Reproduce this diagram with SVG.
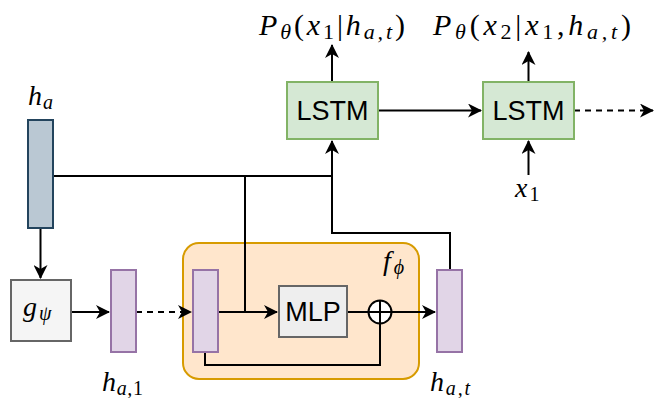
<svg xmlns="http://www.w3.org/2000/svg" width="655" height="398" viewBox="0 0 655 398">
<defs>
<marker id="arr" markerUnits="userSpaceOnUse" viewBox="0 0 14 14" markerWidth="14" markerHeight="14" refX="13" refY="7" orient="auto">
<path d="M0,0 L14,7 L0,14 L4,7 z" fill="#000"/>
</marker>
</defs>
<style>
.ln{fill:none;stroke:#000;stroke-width:2}
.dash{stroke-dasharray:6 5}
.math{font-family:"Liberation Serif","DejaVu Serif",serif;font-style:italic;font-size:28px;fill:#000}
.big{font-size:30px}
.up{font-style:normal}
.sub{font-size:20px}
.big .sub{font-size:22px}
.lbl{font-family:"Liberation Sans",Arial,sans-serif;font-size:27px;fill:#000;text-anchor:middle}
.vec{fill:#e1d5e7;stroke:#9673a6;stroke-width:2}
</style>
<g id="container-f">
<rect x="183" y="243" width="236" height="136" rx="16" fill="#ffe6cc" stroke="#d79b00" stroke-width="2"/>
<text class="math" x="383" y="270">f<tspan class="sub" dx="3" dy="4">ϕ</tspan></text>
</g>
<g id="connectors">
<path class="ln" d="M40.5,228 V278" marker-end="url(#arr)"/>
<path class="ln" d="M71,312 H109" marker-end="url(#arr)"/>
<path class="ln dash" d="M136,312 H191" marker-end="url(#arr)"/>
<path class="ln" d="M218,312 H277" marker-end="url(#arr)"/>
<path class="ln" d="M53,176 H332"/>
<path class="ln" d="M245,176 V312"/>
<path class="ln" d="M347,312 H368"/>
<path class="ln" d="M392,312 H435" marker-end="url(#arr)"/>
<path class="ln" d="M205,352 V365 H380 V323"/>
<path class="ln" d="M450,270 V233 H332 V176"/>
<path class="ln" d="M332,233 V141" marker-end="url(#arr)"/>
<path class="ln" d="M378,110.5 H481" marker-end="url(#arr)"/>
<path class="ln dash" d="M574,110.5 H653" marker-end="url(#arr)"/>
<path class="ln" d="M332,82 V45" marker-end="url(#arr)"/>
<path class="ln" d="M528.5,82 V52" marker-end="url(#arr)"/>
<path class="ln" d="M528.5,175 V141" marker-end="url(#arr)"/>
</g>
<g id="h-a">
<rect x="28" y="120" width="25" height="108" fill="#bac8d3" stroke="#23445d" stroke-width="2"/>
<text class="math" x="28" y="105">h<tspan class="sub" dx="1" dy="4">a</tspan></text>
</g>
<g id="g-psi">
<rect x="11" y="280" width="60" height="61" fill="#f5f5f5" stroke="#666" stroke-width="2"/>
<text class="math" x="23" y="316">g<tspan class="sub" dx="2" dy="4">ψ</tspan></text>
</g>
<g id="h-a1">
<rect class="vec" x="111" y="270" width="25" height="82"/>
<text class="math" x="102" y="391" textLength="41" lengthAdjust="spacing">h<tspan class="sub" dy="4">a,</tspan><tspan class="sub up">1</tspan></text>
</g>
<g id="h-inner">
<rect class="vec" x="193" y="270" width="25" height="82"/>
</g>
<g id="mlp">
<rect x="279" y="286" width="68" height="51" fill="#eeeeee" stroke="#666" stroke-width="2"/>
<text class="lbl" x="313" y="321">MLP</text>
</g>
<g id="oplus">
<circle cx="380" cy="312" r="11.5" fill="#fff" stroke="#000" stroke-width="2"/>
<path class="ln" d="M368.5,312 H391.5 M380,300.5 V323.5"/>
</g>
<g id="h-at">
<rect class="vec" x="437" y="270" width="25" height="82"/>
<text class="math" x="430" y="391" textLength="40" lengthAdjust="spacing">h<tspan class="sub" dy="4">a,t</tspan></text>
</g>
<g id="lstm1">
<rect x="287" y="82" width="91" height="57" fill="#d5e8d4" stroke="#82b366" stroke-width="2"/>
<text class="lbl" x="332.5" y="120">LSTM</text>
<text class="math big" x="259" y="35" textLength="146" lengthAdjust="spacing">P<tspan class="sub" dy="4">θ</tspan><tspan class="up" dy="-4">(</tspan>x<tspan class="sub up" dy="4">1</tspan><tspan class="up" dy="-4">|</tspan>h<tspan class="sub" dy="4">a,t</tspan><tspan class="up" dy="-4">)</tspan></text>
</g>
<g id="lstm2">
<rect x="483" y="82" width="91" height="57" fill="#d5e8d4" stroke="#82b366" stroke-width="2"/>
<text class="lbl" x="528.5" y="120">LSTM</text>
<text class="math big" x="433" y="35" textLength="198" lengthAdjust="spacing">P<tspan class="sub" dy="4">θ</tspan><tspan class="up" dy="-4">(</tspan>x<tspan class="sub up" dy="4">2</tspan><tspan class="up" dy="-4">|</tspan>x<tspan class="sub up" dy="4">1</tspan><tspan class="up" dy="-4">,</tspan>h<tspan class="sub" dy="4">a,t</tspan><tspan class="up" dy="-4">)</tspan></text>
<text class="math" x="515" y="197">x<tspan class="sub up" dx="2" dy="4">1</tspan></text>
</g>
</svg>
